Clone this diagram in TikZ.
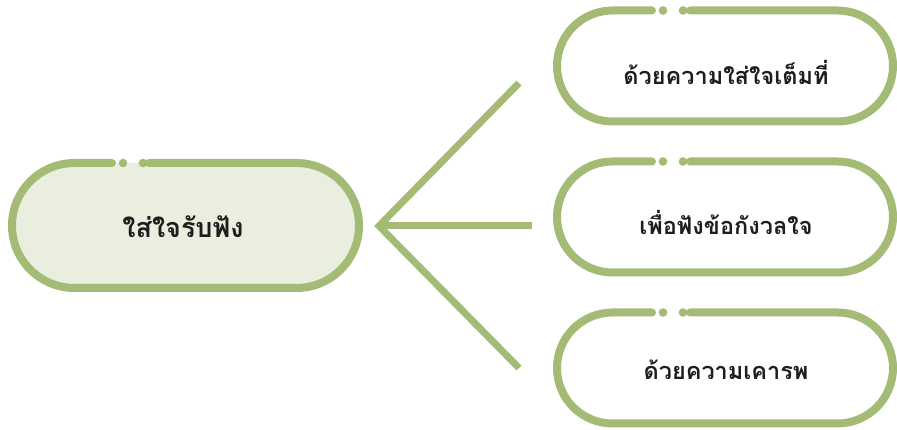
\documentclass[tikz,border=0pt]{standalone}
\usepackage{fontspec}
\newfontfamily\thaifont[Script=Thai]{Loma}
\definecolor{leaf}{RGB}{163,187,116}
\definecolor{leaffill}{RGB}{233,238,222}
\definecolor{ink}{RGB}{30,30,30}
\tikzset{
  outline/.style={draw=leaf, line width=8pt, line cap=round, line join=round},
  dotmark/.style={fill=leaf},
  spoke/.style={draw=leaf, line width=7pt},
  mainlabel/.style={text=ink, font=\thaifont\bfseries\fontsize{27}{32}\selectfont, inner sep=0pt, anchor=base},
  sublabel/.style={text=ink, font=\thaifont\bfseries\fontsize{23.5}{28}\selectfont, inner sep=0pt, anchor=base},
}
% #1 left, #2 right, #3 centre y, #4 radius, #5 gap right end, #6 gap left end, #7 dot1, #8 dot2, #9 fill
\newcommand\pillshape[9]{%
  \fill[#9] ({#1+#4},{#3+#4}) -- ({#2-#4},{#3+#4}) arc[start angle=90,end angle=-90,radius=#4pt]
     -- ({#1+#4},{#3-#4}) arc[start angle=270,end angle=90,radius=#4pt] -- cycle;
  \draw[outline] (#5,{#3+#4}) -- ({#2-#4},{#3+#4}) arc[start angle=90,end angle=-90,radius=#4pt]
     -- ({#1+#4},{#3-#4}) arc[start angle=270,end angle=90,radius=#4pt] -- (#6,{#3+#4});
  \fill[dotmark] (#7,{#3+#4}) circle[radius=4.3pt];
  \fill[dotmark] (#8,{#3+#4}) circle[radius=4.3pt];
}
\begin{document}
\begin{tikzpicture}[x=1pt,y=1pt]
\useasboundingbox (0,0) rectangle (897,430);
% main box (y measured upward: 430 - y_down)
\pillshape{12}{359}{204.5}{62.5}{149}{112}{123}{143}{leaffill}
\node[mainlabel] (main) at (183,192) {ใส่ใจรับฟัง};
% right boxes
\pillshape{557}{893}{364}{55.5}{690}{652}{663}{683}{white}
\node[sublabel] (b1) at (726,345) {ด้วยความใส่ใจเต็มที่};
\pillshape{557}{893}{213}{55.5}{690}{652}{663}{683}{white}
\node[sublabel] (b2) at (726,195) {เพื่อฟังข้อกังวลใจ};
\pillshape{557}{893}{62}{55.5}{690}{652}{663}{683}{white}
\node[sublabel] (b3) at (726,50) {ด้วยความเคารพ};
% connectors
\coordinate (apex) at (379,204);
\coordinate (e1) at (519,347);
\coordinate (e2) at (532,204);
\coordinate (e3) at (519,62);
\draw[spoke] (e1) -- (apex) -- (e3);
\draw[spoke] (apex) -- (e2);
\end{tikzpicture}
\end{document}
